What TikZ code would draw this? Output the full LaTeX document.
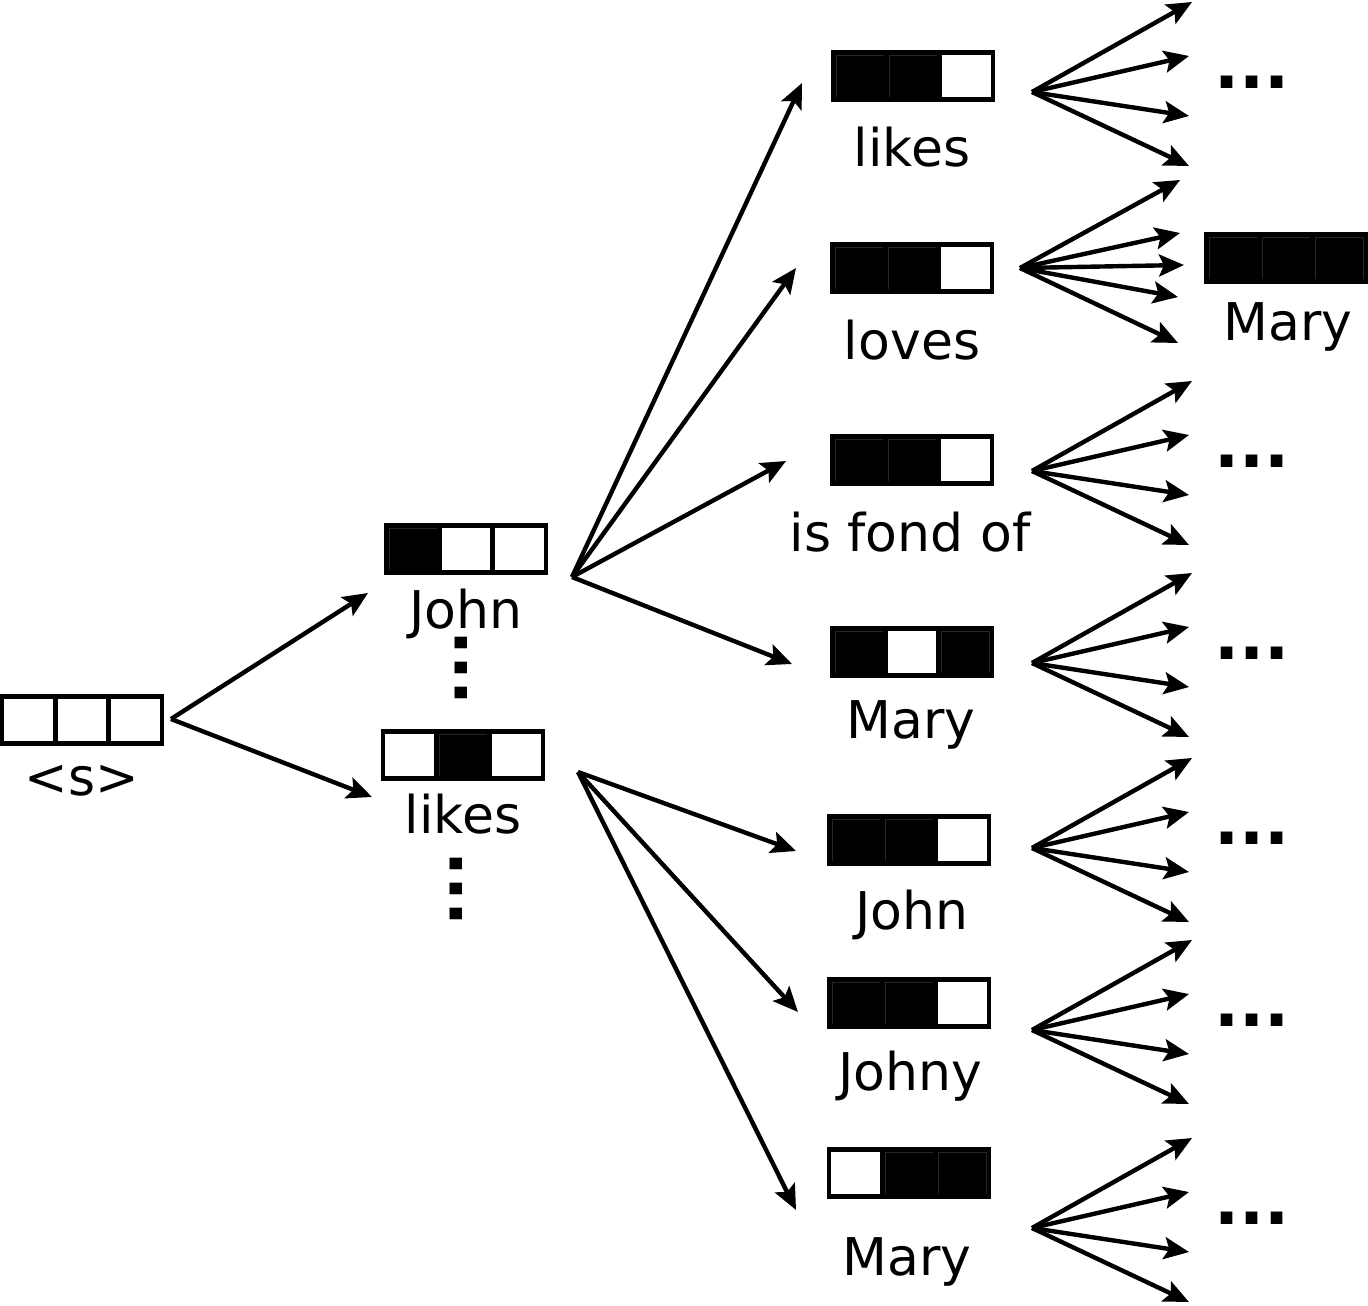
\documentclass[tikz,border=0pt]{standalone}
\usepackage{fontspec}
\setmainfont{DejaVu Sans}
\usetikzlibrary{arrows.meta,positioning}

% three cells of one word vector: name, centre, cell styles
\newcommand{\wordcells}[5]{%
  \node[cell, #4] (#1b) at #2 {};
  \node[cell, #3, left=0pt of #1b] (#1a) {};
  \node[cell, #5, right=0pt of #1b] (#1c) {};
}

\tikzset{
  cell/.style={draw, line width=2.2pt, minimum width=26.6pt, minimum height=23.5pt,
    inner sep=0pt, outer sep=0pt},
  off/.style={fill=white},
  on/.style={fill=black, path picture={
    \draw[gray!30!black, line width=0.3pt]
      ([shift={(1.3pt,1.3pt)}]path picture bounding box.south west) rectangle
      ([shift={(-1.3pt,-1.3pt)}]path picture bounding box.north east);}},
  word/.style={font=\fontsize{26}{30}\selectfont, anchor=base, inner sep=0pt},
  more/.style={font=\bfseries\fontsize{33}{33}\selectfont, inner sep=0pt},
  succ/.style={-{Stealth[length=12.5pt, width=11pt, inset=2.5pt]}, line width=2.2pt},
}

\begin{document}
\begin{tikzpicture}[x=0.5pt, y=-0.5pt]

    \useasboundingbox (0,0) rectangle (1368,1305);

    % Start symbol
    \wordcells{s}{(82,720)}{off}{off}{off}
    \node[word] (s-lab) at (82,795) {<s>};

    % First word
    \wordcells{johna}{(466,549)}{on}{off}{off}
    \node[word] (johna-lab) at (466,628) {John};
    \wordcells{likesa}{(463,755)}{off}{on}{off}
    \node[word] (likesa-lab) at (463,833) {likes};
    \node[more, rotate=90] (vdots1) at (461,668) {...};
    \node[more, rotate=90] (vdots2) at (456,889) {...};

    % Second word
    \wordcells{likesb}{(913,76)}{on}{on}{off}
    \node[word] (likesb-lab) at (912,167) {likes};
    \wordcells{loves}{(912,268)}{on}{on}{off}
    \node[word] (loves-lab) at (912,359) {loves};
    \wordcells{fond}{(912,460)}{on}{on}{off}
    \node[word] (fond-lab) at (910,551) {is fond of};
    \wordcells{marya}{(912,652)}{on}{off}{on}
    \node[word] (marya-lab) at (911,738) {Mary};
    \wordcells{johnb}{(909,840)}{on}{on}{off}
    \node[word] (johnb-lab) at (912,929) {John};
    \wordcells{johny}{(909,1003)}{on}{on}{off}
    \node[word] (johny-lab) at (910,1090) {Johny};
    \wordcells{maryb}{(909,1173)}{off}{on}{on}
    \node[word] (maryb-lab) at (907,1275) {Mary};

    % Third word
    \wordcells{maryc}{(1286,258)}{on}{on}{on}
    \node[word] (maryc-lab) at (1288,340) {Mary};

    % Fan out points
    \coordinate (s-out) at (171,719);
    \coordinate (johna-out) at (572,577);
    \coordinate (likesa-out) at (578,772);
    \coordinate (likesb-out) at (1032,92);
    \coordinate (loves-out) at (1020,268);
    \coordinate (fond-out) at (1032,471);
    \coordinate (marya-out) at (1032,663);
    \coordinate (johnb-out) at (1032,848);
    \coordinate (johny-out) at (1032,1030);
    \coordinate (maryb-out) at (1032,1228);

    % Arrow ends
    \coordinate (johna-in) at (368,593);
    \coordinate (likesa-in) at (372,797);
    \coordinate (likesb-in) at (802,83);
    \coordinate (loves-in) at (796,268);
    \coordinate (fond-in) at (786,461);
    \coordinate (marya-in) at (792,664);
    \coordinate (johnb-in) at (796,851);
    \coordinate (johny-in) at (798,1012);
    \coordinate (maryb-in) at (796,1210);

    \draw[succ] (s-out) -- (johna-in);
    \draw[succ] (s-out) -- (likesa-in);
    \foreach \w in {likesb, loves, fond, marya}
        \draw[succ] (johna-out) -- (\w-in);
    \foreach \w in {johnb, johny, maryb}
        \draw[succ] (likesa-out) -- (\w-in);

    % Successors of the second word
    \foreach \w in {likesb, fond, marya, johnb, johny, maryb} {
        \foreach \dx/\dy in {160/-90, 157/-36, 157/24, 157/74}
            \draw[succ] (\w-out) -- ++(\dx,\dy);
        \node[more] (\w-more) at ([xshift=110pt, yshift=5pt]\w-out) {...};
    }
    \foreach \dx/\dy in {160/-88, 160/-35, 164/-3, 158/29, 158/75}
        \draw[succ] (loves-out) -- ++(\dx,\dy);

\end{tikzpicture}
\end{document}
